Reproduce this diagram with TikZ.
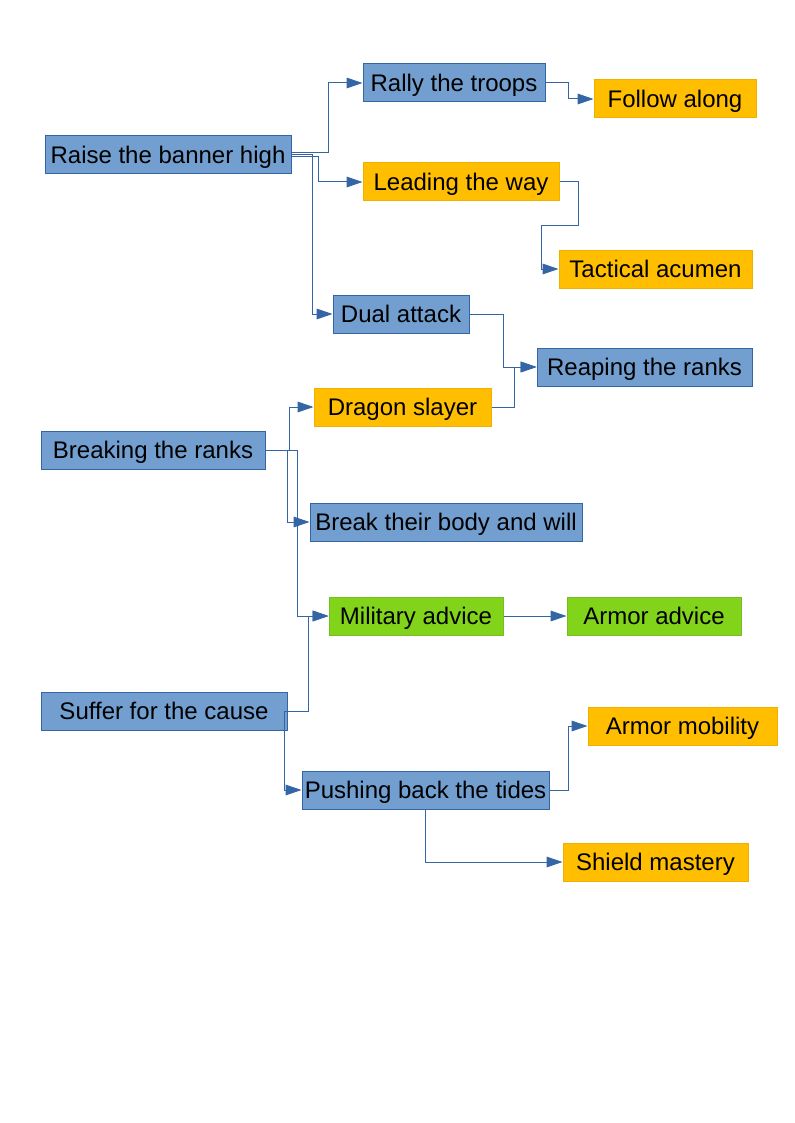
\documentclass[tikz,border=0pt]{standalone}
\usepackage{fontspec}
\setmainfont{Liberation Sans}
\usetikzlibrary{arrows.meta}
\definecolor{bfill}{HTML}{729FCF}
\definecolor{bline}{HTML}{3465A4}
\definecolor{ofill}{HTML}{FFBF00}
\definecolor{oline}{HTML}{F0B000}
\definecolor{gfill}{HTML}{81D41A}
\definecolor{gline}{HTML}{77BC20}
\tikzset{
  box/.style={rectangle, inner sep=0pt, minimum height=28.5pt, line width=0.75pt,
    text height=16.7pt, text depth=3.8pt,
    font=\fontsize{18}{20}\selectfont, text=black},
  bluebox/.style={box, fill=bfill, draw=bline},
  orangebox/.style={box, fill=ofill, draw=oline},
  greenbox/.style={box, fill=gfill, draw=gline},
  conn/.style={draw=bline, line width=0.75pt, -{Triangle[length=12pt,width=8pt]}}
}
\begin{document}
\begin{tikzpicture}[x=0.75pt,y=-0.75pt]
\useasboundingbox (0,0) rectangle (794,1123);
\fill[white] (0,0) rectangle (794,1123);
\node[bluebox, minimum width=184.5pt] (raise) at (168,155) {Raise the banner high};
\node[bluebox, minimum width=136.5pt] (rally) at (454,83) {Rally the troops};
\node[orangebox, minimum width=121.5pt] (follow) at (675,99) {Follow along};
\node[orangebox, minimum width=147pt] (leading) at (461,182) {Leading the way};
\node[orangebox, minimum width=144.75pt] (tactical) at (655.5,269) {Tactical acumen};
\node[bluebox, minimum width=102pt] (dual) at (401,314) {Dual attack};
\node[bluebox, minimum width=161.25pt] (reaping) at (644.5,367) {Reaping the ranks};
\node[orangebox, minimum width=132.75pt] (dragon) at (402.5,407) {Dragon slayer};
\node[bluebox, minimum width=168pt] (breaking) at (153,450) {Breaking the ranks};
\node[bluebox, minimum width=204pt] (body) at (446,522) {Break their body and will};
\node[greenbox, minimum width=130.5pt] (military) at (416,616) {Military advice};
\node[greenbox, minimum width=130.5pt] (armoradv) at (654,616) {Armor advice};
\node[bluebox, minimum width=184.5pt] (suffer) at (164,711) {Suffer for the cause};
\node[orangebox, minimum width=141.75pt] (mobility) at (682.5,726) {Armor mobility};
\node[bluebox, minimum width=185.25pt] (pushing) at (425.5,790) {Pushing back the tides};
\node[orangebox, minimum width=138.75pt] (shield) at (655.5,862) {Shield mastery};

% Raise the banner high
\draw[conn] ([yshift=1.5pt]raise.east) -- ++(37,0) |- (rally.west);
\draw[conn] ([yshift=-1.5pt]raise.east) -- ++(27,0) |- (leading.west);
\draw[conn] (raise.east) -- ++(21,0) |- (dual.west);
% Rally -> Follow
\draw[conn] (rally.east) -- ++(23,0) |- (follow.west);
% Leading -> Tactical
\coordinate (lt1) at (578,226);
\draw[conn] (leading.east) -| (lt1) -- (541,226) |- (tactical.west);
% Dual, Dragon -> Reaping
\draw[conn] (dual.east) -- ++(34,0) |- (reaping.west);
\draw[conn] (dragon.east) -- ++(23,0) |- (reaping.west);
% Breaking
\draw[conn] (breaking.east) -- ++(24,0) |- (dragon.west);
\draw[conn] (breaking.east) -- ++(22,0) |- (body.west);
\draw[conn] (breaking.east) -- ++(32,0) |- (military.west);
% Suffer
\draw[conn] (suffer.east) -- ++(21,0) |- (military.west);
\draw[conn] (suffer.east) -- ++(-3,0) |- (pushing.west);
% Military -> Armor advice
\draw[conn] (military) -- (armoradv);
% Pushing
\draw[conn] (pushing.east) -- ++(19,0) |- (mobility.west);
\draw[conn] (pushing.south) |- (shield.west);
\end{tikzpicture}
\end{document}
